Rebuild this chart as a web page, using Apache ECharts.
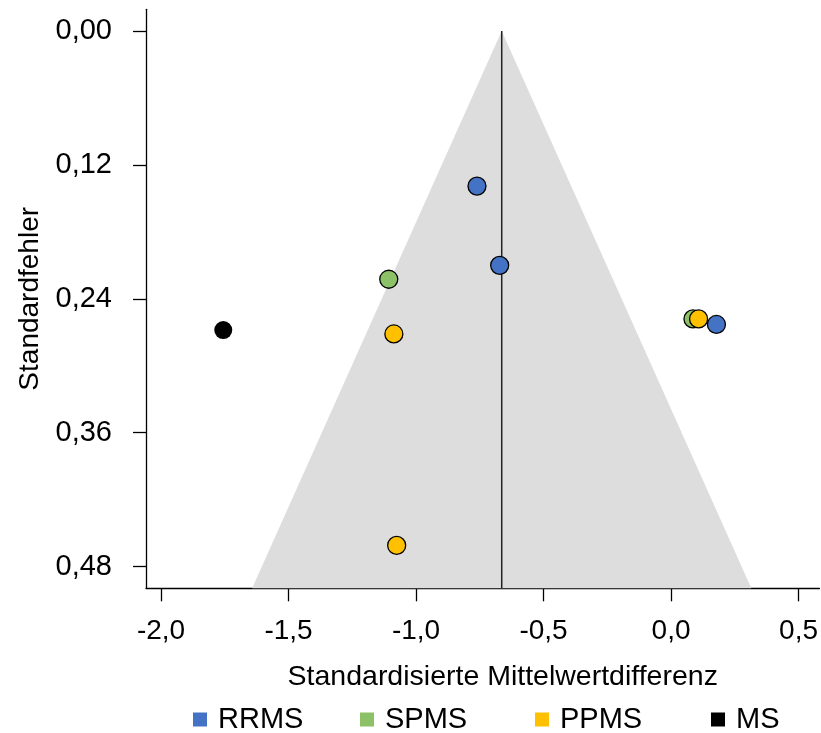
<!DOCTYPE html>
<html>
<head>
<meta charset="utf-8">
<script src="https://cdn.jsdelivr.net/npm/echarts@6/dist/echarts.min.js"></script>
<style>
html,body{margin:0;padding:0;background:#fff;}
#chart{width:821px;height:733px;}
</style>
</head>
<body>
<div id="chart"></div>
<script>
// ---- Data ----
const seriesNames = ['RRMS', 'SPMS', 'PPMS', 'MS'];
const seriesColors = ['#4472C4', '#8CC168', '#FFC000', '#000000'];
// [standardized mean difference, standard error]
const rrmsData = [[-0.761, 0.139], [-0.672, 0.210], [0.178, 0.263]];
const spmsData = [[-1.107, 0.2225], [0.086, 0.258]];
const ppmsData = [[-1.087, 0.2715], [0.108, 0.258], [-1.076, 0.461]];
const msData = [[-1.756, 0.268]];
const pooledEstimate = -0.664;
const funnelZ = 1.96;
const seBottom = 0.4994;
const xTicks = [-2.0, -1.5, -1.0, -0.5, 0.0, 0.5];
const yTicks = [0.00, 0.12, 0.24, 0.36, 0.48];
const xTitle = 'Standardisierte Mittelwertdifferenz';
const yTitle = 'Standardfehler';

const FONT = '"Liberation Sans", Arial, sans-serif';
const chart = echarts.init(document.getElementById('chart'), null, {renderer: 'canvas'});

const funnelData = [
  [pooledEstimate, 0],
  [pooledEstimate + funnelZ * seBottom, seBottom],
  [pooledEstimate - funnelZ * seBottom, seBottom]
];

const scatterSets = [rrmsData, spmsData, ppmsData, msData];

const legends = seriesNames.map((n, i) => ({
  data: [n],
  left: [193, 360, 535, 711][i],
  top: 705,
  icon: 'rect',
  itemWidth: 14,
  itemHeight: 14,
  itemGap: 10,
  padding: 0,
  itemStyle: {borderWidth: 0},
  textStyle: {fontFamily: FONT, fontSize: 29, color: '#000', padding: [0, 0, 0, 6]},
  selectedMode: false
}));

const option = {
  backgroundColor: '#fff',
  animation: false,
  legend: legends,
  grid: {left: 146, width: 674, top: 9.3, height: 579, containLabel: false},
  xAxis: {
    type: 'value',
    min: -2.059, max: 0.582,
    splitLine: {show: false},
    axisLine: {onZero: false, lineStyle: {color: '#000', width: 1.3}},
    axisTick: {show: true, length: 13, customValues: xTicks, lineStyle: {color: '#000', width: 1.3}},
    axisLabel: {
      customValues: xTicks, margin: 29,
      fontFamily: FONT, fontSize: 28, color: '#000',
      formatter: v => v.toFixed(1).replace('.', ',')
    },
    name: xTitle, nameLocation: 'middle', nameGap: 74,
    nameTextStyle: {fontFamily: FONT, fontSize: 28.5, color: '#000', padding: [0, 0, 0, 40]}
  },
  yAxis: {
    type: 'value',
    inverse: true,
    min: -0.0194, max: seBottom,
    splitLine: {show: false},
    axisLine: {show: true, onZero: false, lineStyle: {color: '#000', width: 1.3}},
    axisTick: {show: true, length: 13, customValues: yTicks, lineStyle: {color: '#000', width: 1.3}},
    axisLabel: {
      customValues: yTicks, margin: 34,
      fontFamily: FONT, fontSize: 29, color: '#000',
      formatter: v => v.toFixed(2).replace('.', ',')
    },
    name: yTitle, nameLocation: 'middle', nameGap: 102, nameRotate: 90,
    nameTextStyle: {fontFamily: FONT, fontSize: 28, color: '#000'}
  },
  series: [
    {
      type: 'custom',
      silent: true,
      z: 1,
      data: [0],
      renderItem: (params, api) => {
        const pts = funnelData.map(p => api.coord(p));
        return {type: 'polygon', shape: {points: pts}, style: {fill: '#DDDDDD', stroke: 'none'}};
      }
    },
    {
      type: 'line',
      silent: true,
      z: 2,
      symbol: 'none',
      data: [[pooledEstimate, 0], [pooledEstimate, seBottom]],
      lineStyle: {color: '#222', width: 1.5}
    }
  ].concat(seriesNames.map((n, i) => ({
    name: n,
    type: 'scatter',
    z: 3,
    symbol: 'circle',
    symbolSize: 18,
    data: scatterSets[i],
    itemStyle: {
      color: seriesColors[i],
      borderColor: '#000',
      borderWidth: i === 3 ? 0 : 1.3,
      opacity: 1
    }
  })))
};
chart.setOption(option);
</script>
</body>
</html>
